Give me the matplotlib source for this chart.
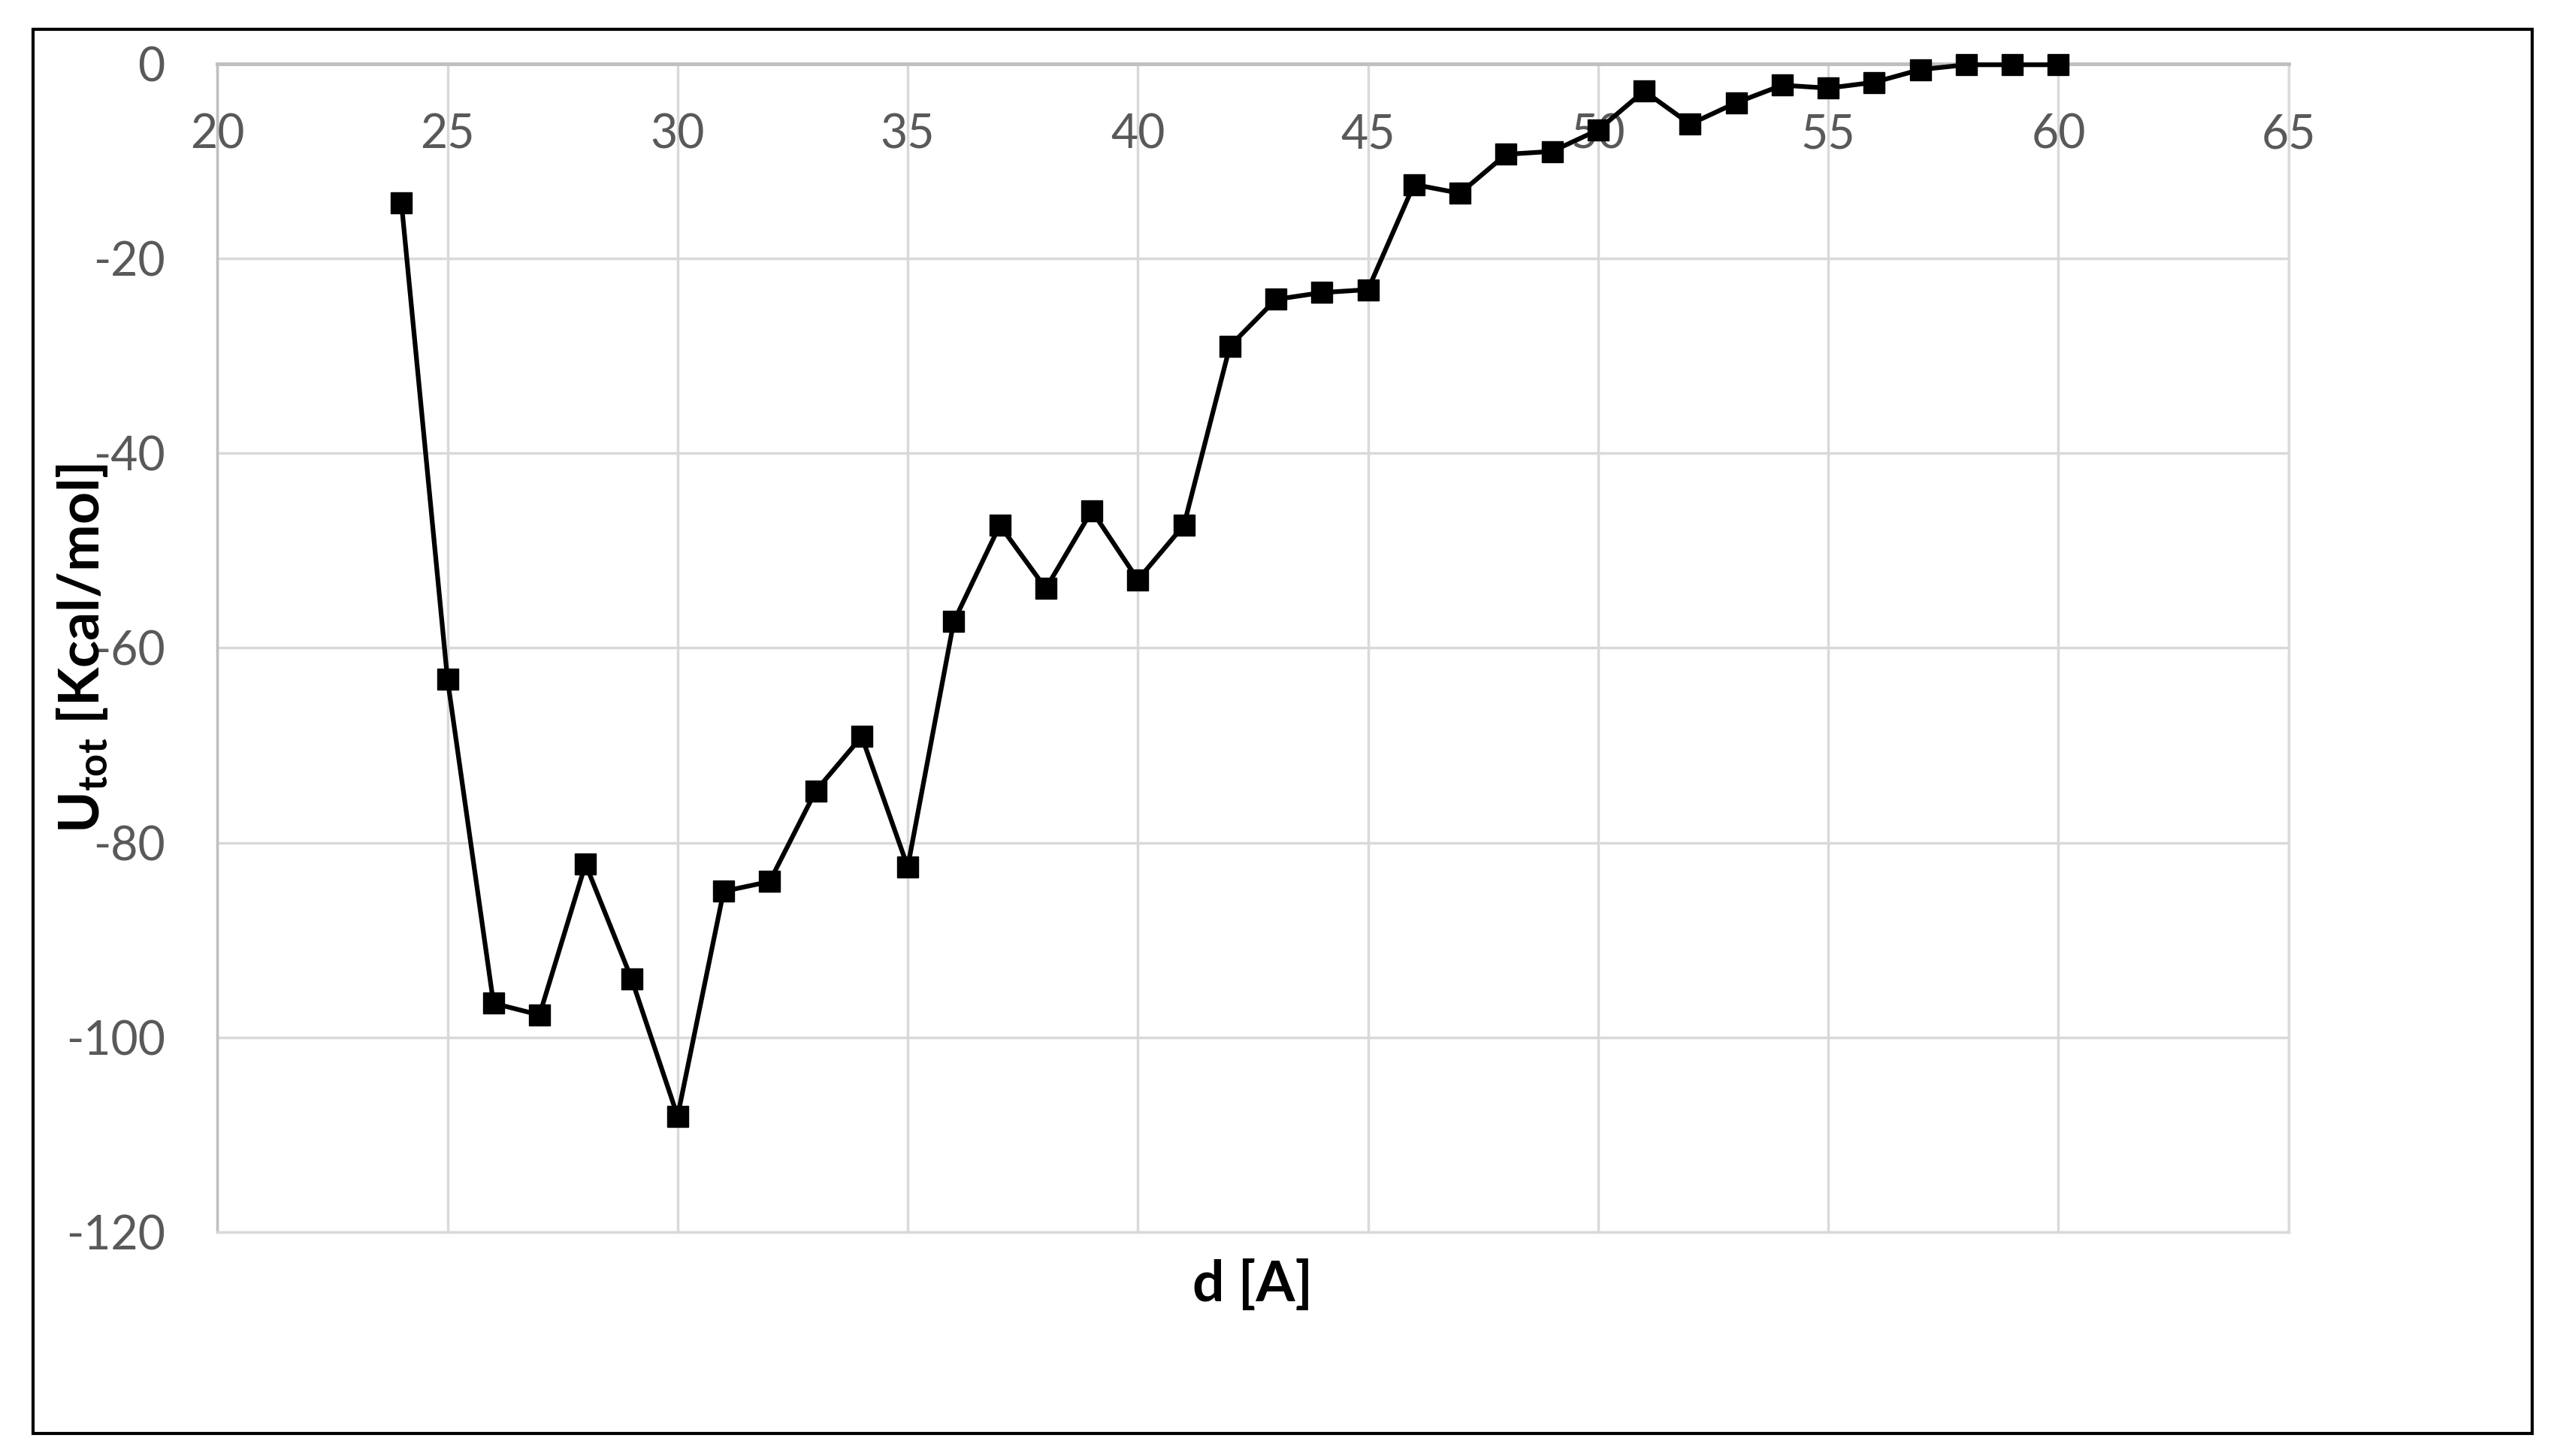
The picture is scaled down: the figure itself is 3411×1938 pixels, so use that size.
import matplotlib
matplotlib.use("Agg")
import matplotlib.pyplot as plt
from matplotlib.patches import Rectangle

# data
d = [24, 25, 26, 27, 28, 29, 30, 31, 32, 33, 34, 35, 36, 37, 38, 39, 40, 41, 42,
     43, 44, 45, 46, 47, 48, 49, 50, 51, 52, 53, 54, 55, 56, 57, 58, 59, 60]
u_tot = [-14.3, -63.2, -96.5, -97.7, -82.2, -94.0, -108.1, -85.0, -84.0, -74.7,
         -69.1, -82.5, -57.3, -47.4, -53.9, -45.9, -53.0, -47.4, -29.0,
         -24.2, -23.5, -23.2, -12.4, -13.3, -9.3, -9.0, -6.8, -2.8, -6.2,
         -4.0, -2.2, -2.5, -1.9, -0.6, -0.1, -0.1, -0.1]
x_ticks = [20, 25, 30, 35, 40, 45, 50, 55, 60, 65]
y_ticks = [0, -20, -40, -60, -80, -100, -120]

plt.rcParams['font.family'] = ['Lato', 'DejaVu Sans']
plt.rcParams['mathtext.fontset'] = 'custom'
plt.rcParams['mathtext.rm'] = 'Lato'
plt.rcParams['mathtext.bf'] = 'Lato:bold'
plt.rcParams['axes.unicode_minus'] = False

grid_col = '#D9D9D9'
axis_col = '#BFBFBF'
tick_col = '#595959'

fig = plt.figure(figsize=(34.11, 19.38), dpi=100)
ax = fig.add_axes([0.0848, 0.1538, 0.8081, 0.8024])

ax.plot(d, u_tot, '-s', color='black', lw=4.5, ms=20, clip_on=False, zorder=5)

ax.set_xlim(20, 65)
ax.set_ylim(-120, 0)
ax.set_xticks(x_ticks)
ax.set_yticks(y_ticks)
ax.grid(color=grid_col, linewidth=2.5)
ax.set_axisbelow(True)
for s in ax.spines.values():
    s.set_color(grid_col)
    s.set_linewidth(2.5)
ax.spines['top'].set_color(axis_col)
ax.spines['top'].set_linewidth(3.5)
ax.spines['left'].set_color(axis_col)

# x labels sit just under the zero line, like the excel chart
ax.tick_params(axis='x', bottom=False, top=False, labelbottom=False, labeltop=True,
               length=0, pad=-89, labelsize=45, labelcolor=tick_col)
ax.tick_params(axis='y', length=0, pad=50, labelsize=45, labelcolor=tick_col)

ax.set_xlabel("d [A]", fontsize=54, fontweight='bold', labelpad=26)
ax.set_ylabel(r"$\mathbf{U_{tot}}$ [Kcal/mol]", fontsize=54, fontweight='bold')
ax.yaxis.set_label_coords(-0.052, 0.5)

# outer frame
fig.patches.append(Rectangle((0.0128, 0.0157), 0.9751, 0.9641, transform=fig.transFigure,
                             fill=False, edgecolor='black', linewidth=3))

fig.savefig("out.png", dpi=100)
